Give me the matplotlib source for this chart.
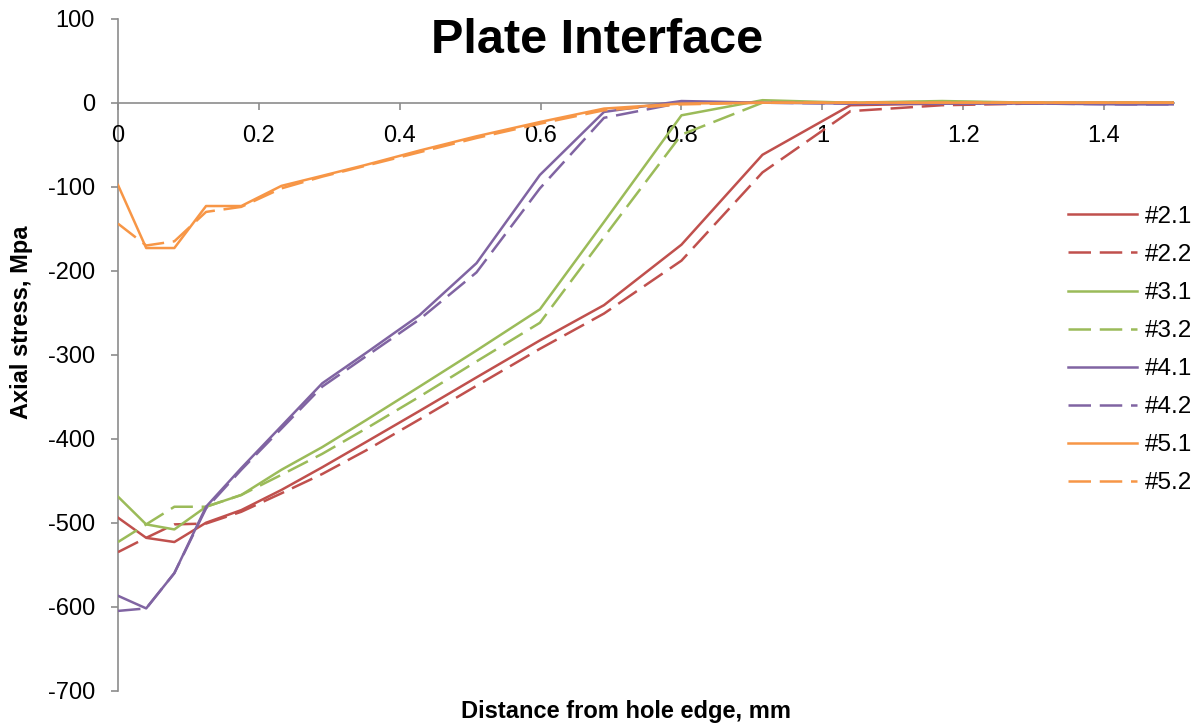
import matplotlib
matplotlib.use("Agg")
from matplotlib import pyplot as plt

plt.rcParams['font.family'] = ['Liberation Sans', 'DejaVu Sans']
plt.rcParams['axes.unicode_minus'] = False

# distance from hole edge, mm (mesh nodes)
dist = [0, 0.04, 0.08, 0.125, 0.175, 0.232, 0.29, 0.352, 0.428, 0.509,
        0.599, 0.69, 0.80, 0.915, 1.04, 1.17, 1.30, 1.43, 1.5]

# axial stress, MPa
s21 = [-494, -518, -523, -500, -485, -461, -434, -404, -367, -327,
       -283, -241, -169, -62, -3, -1, 0, 0, 0]
s22 = [-535, -518, -502, -501, -487, -465, -442, -414, -377, -337,
       -293, -251, -188, -83, -10, -3, -1, 0, 0]
s31 = [-469, -502, -508, -481, -467, -437, -410, -378, -338, -295,
       -246, -142, -15, 3, 0, 2, 0, 0, 0]
s32 = [-523, -502, -481, -481, -467, -443, -418, -388, -350, -308,
       -262, -160, -38, 0, 0, 1, 0, 0, 0]
s41 = [-587, -602, -560, -481, -435, -385, -334, -298, -253, -191,
       -86, -11, 2, 0, -1, -1, -1, -2, -2]
s42 = [-605, -602, -560, -483, -437, -388, -338, -302, -258, -202,
       -102, -18, 0, 0, -1, -1, -1, -2, -2]
s51 = [-98, -173, -173, -123, -123, -99, -87, -74, -57, -40,
       -23, -7, -1, 0, 0, 0, 0, 0, 0]
s52 = [-144, -170, -165, -130, -124, -102, -88, -75, -59, -42,
       -25, -9, -2, 0, 0, 0, 0, 0, 0]

labels = ['#2.1', '#2.2', '#3.1', '#3.2', '#4.1', '#4.2', '#5.1', '#5.2']
series = [s21, s22, s31, s32, s41, s42, s51, s52]
colors = ['#C0504D', '#C0504D', '#9BBB59', '#9BBB59',
          '#8064A2', '#8064A2', '#F79646', '#F79646']

xticks = [0, 0.2, 0.4, 0.6, 0.8, 1.0, 1.2, 1.4]
xticklabels = ['0', '0.2', '0.4', '0.6', '0.8', '1', '1.2', '1.4']
yticks = list(range(-700, 101, 100))


def go():
    fig = plt.figure(figsize=(12.03, 7.25), dpi=100)
    ax = fig.add_axes([0.0981, 0.0473, 0.8782, 0.9269])

    for i, (ys, lab, c) in enumerate(zip(series, labels, colors)):
        line, = ax.plot(dist, ys, color=c, lw=1.8, label=lab)
        if i % 2 == 1:
            line.set_dashes((9, 3.5))

    ax.set_xlim(0, 1.5)
    ax.set_ylim(-700, 100)
    ax.set_xticks(xticks)
    ax.set_xticklabels(xticklabels)
    ax.set_yticks(yticks)

    ax.spines['top'].set_visible(False)
    ax.spines['right'].set_visible(False)
    ax.spines['bottom'].set_position(('data', 0))
    for s in ('left', 'bottom'):
        ax.spines[s].set_color('#8C8C8C')
        ax.spines[s].set_linewidth(1.2)
        ax.spines[s].set_zorder(0.5)
    ax.tick_params(axis='both', colors='#8C8C8C', labelcolor='black',
                   labelsize=17, direction='out', length=5, width=1.2)
    ax.tick_params(axis='x', pad=11)
    ax.tick_params(axis='y', pad=11.5)

    fig.text(0.496, 0.944, 'Plate Interface', ha='center', va='center',
             fontsize=35, fontweight='bold')
    fig.text(0.52, 0.018, 'Distance from hole edge, mm', ha='center',
             va='center', fontsize=17, fontweight='bold')
    fig.text(0.018, 0.555, 'Axial stress, Mpa', ha='center', va='center',
             rotation=90, fontsize=17, fontweight='bold')

    ax.legend(loc='upper left', bbox_to_anchor=(0.888, 0.716),
              bbox_transform=fig.transFigure, frameon=False,
              fontsize=17.5, handlelength=2.84, labelspacing=0.66,
              handletextpad=0.3, borderaxespad=0, borderpad=0)

    fig.savefig('out.png', dpi=100)


go()
